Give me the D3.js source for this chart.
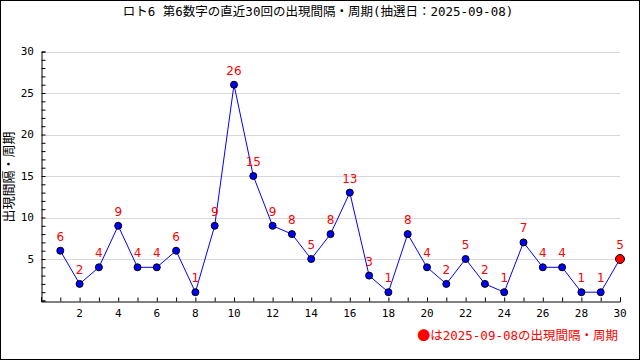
<!DOCTYPE html>
<html><head><meta charset="utf-8">
<script src="https://cdn.jsdelivr.net/npm/d3@7"></script>
<style>body{margin:0;background:#fff}svg{display:block}</style>
</head><body>
<script>
const title = "ロト6 第6数字の直近30回の出現間隔・周期(抽選日：2025-09-08)";
const yLabel = "出現間隔・周期";
const legendMark = "●";
const legendText = "は2025-09-08の出現間隔・周期";
const draws = d3.range(1, 31);
const values = [6,2,4,9,4,4,6,1,9,26,15,9,8,5,8,13,3,1,8,4,2,5,2,1,7,4,4,1,1,5];
const xTicks = [2,4,6,8,10,12,14,16,18,20,22,24,26,28,30];
const yTicks = [5,10,15,20,25,30];

const W = 640, H = 360;
const svg = d3.select("body").append("svg").attr("width", W).attr("height", H);
svg.append("rect").attr("x",0.5).attr("y",0.5).attr("width",W-1).attr("height",H-1)
  .attr("fill","#fff").attr("stroke","#000").attr("stroke-width",1);

const font = "'DejaVu Sans Mono','Noto Sans CJK JP',monospace";
const x = d3.scaleLinear().domain([0,30]).range([41,620]);
const y = d3.scaleLinear().domain([0,30]).range([300.5,51.5]);

// grid
svg.append("g").selectAll("line").data(yTicks).join("line")
  .attr("x1",x(0)).attr("x2",x(30)).attr("y1",d=>Math.round(y(d))+0.5).attr("y2",d=>Math.round(y(d))+0.5)
  .attr("stroke","#d8d8d8").attr("stroke-width",1);

// y axis
const yAxis = d3.axisRight(y).tickValues(d3.range(0,31)).tickSize(4).tickFormat("");
const gy = svg.append("g").attr("transform",`translate(${Math.round(x(0))+0.5},0)`).call(yAxis);
gy.select(".domain").attr("stroke","#000");
gy.selectAll("line").attr("stroke","#000");
svg.append("g").selectAll("text").data(yTicks).join("text")
  .attr("x",34).attr("y",d=>y(d)).attr("dy","0.35em").attr("text-anchor","end")
  .attr("font-family",font).attr("font-size",11).attr("fill","#000").text(d=>d);

// x axis
const xAxis = d3.axisTop(x).tickValues(d3.range(0,31)).tickSize(4).tickFormat("");
const gx = svg.append("g").attr("transform",`translate(0,${Math.round(y(0))+0.5})`).call(xAxis);
gx.select(".domain").attr("stroke","#000");
gx.selectAll("line").attr("stroke","#000");
svg.append("g").selectAll("text").data(xTicks).join("text")
  .attr("x",d=>x(d)).attr("y",313).attr("dy","0.35em").attr("text-anchor","middle")
  .attr("font-family",font).attr("font-size",11).attr("fill","#000").text(d=>d);

// line
const line = d3.line().x((d,i)=>x(draws[i])).y(d=>y(d));
svg.append("path").datum(values).attr("d",line).attr("fill","none").attr("stroke","#0000ff").attr("stroke-width",1);

// points
svg.append("g").selectAll("circle").data(values).join("circle")
  .attr("cx",(d,i)=>x(draws[i])).attr("cy",d=>y(d))
  .attr("r",(d,i)=>i===values.length-1?4.5:3.5)
  .attr("fill",(d,i)=>i===values.length-1?"#ff0000":"#0000ff")
  .attr("stroke","#000").attr("stroke-width",1);

// value labels
svg.append("g").selectAll("text").data(values).join("text")
  .attr("x",(d,i)=>x(draws[i])).attr("y",d=>y(d)-10).attr("text-anchor","middle")
  .attr("font-family","'DejaVu Sans',sans-serif").attr("font-size",12).attr("fill","#ff0000").text(d=>d);

// title
svg.append("text").attr("x",318).attr("y",16).attr("text-anchor","middle")
  .attr("font-family",font).attr("font-size",12.5).attr("fill","#000").text(title);

// y label
svg.append("text").attr("transform","translate(13,177) rotate(-90)").attr("text-anchor","middle")
  .attr("font-family",font).attr("font-size",13).attr("fill","#000").text(yLabel);

// legend
const lg = svg.append("text").attr("x",618).attr("y",340).attr("text-anchor","end")
  .attr("font-family",font).attr("font-size",12.5).attr("fill","#ff0000");
lg.append("tspan").attr("font-family","'Noto Sans CJK JP',sans-serif").attr("font-size",13).text(legendMark);
lg.append("tspan").text(legendText);
</script>
</body></html>
